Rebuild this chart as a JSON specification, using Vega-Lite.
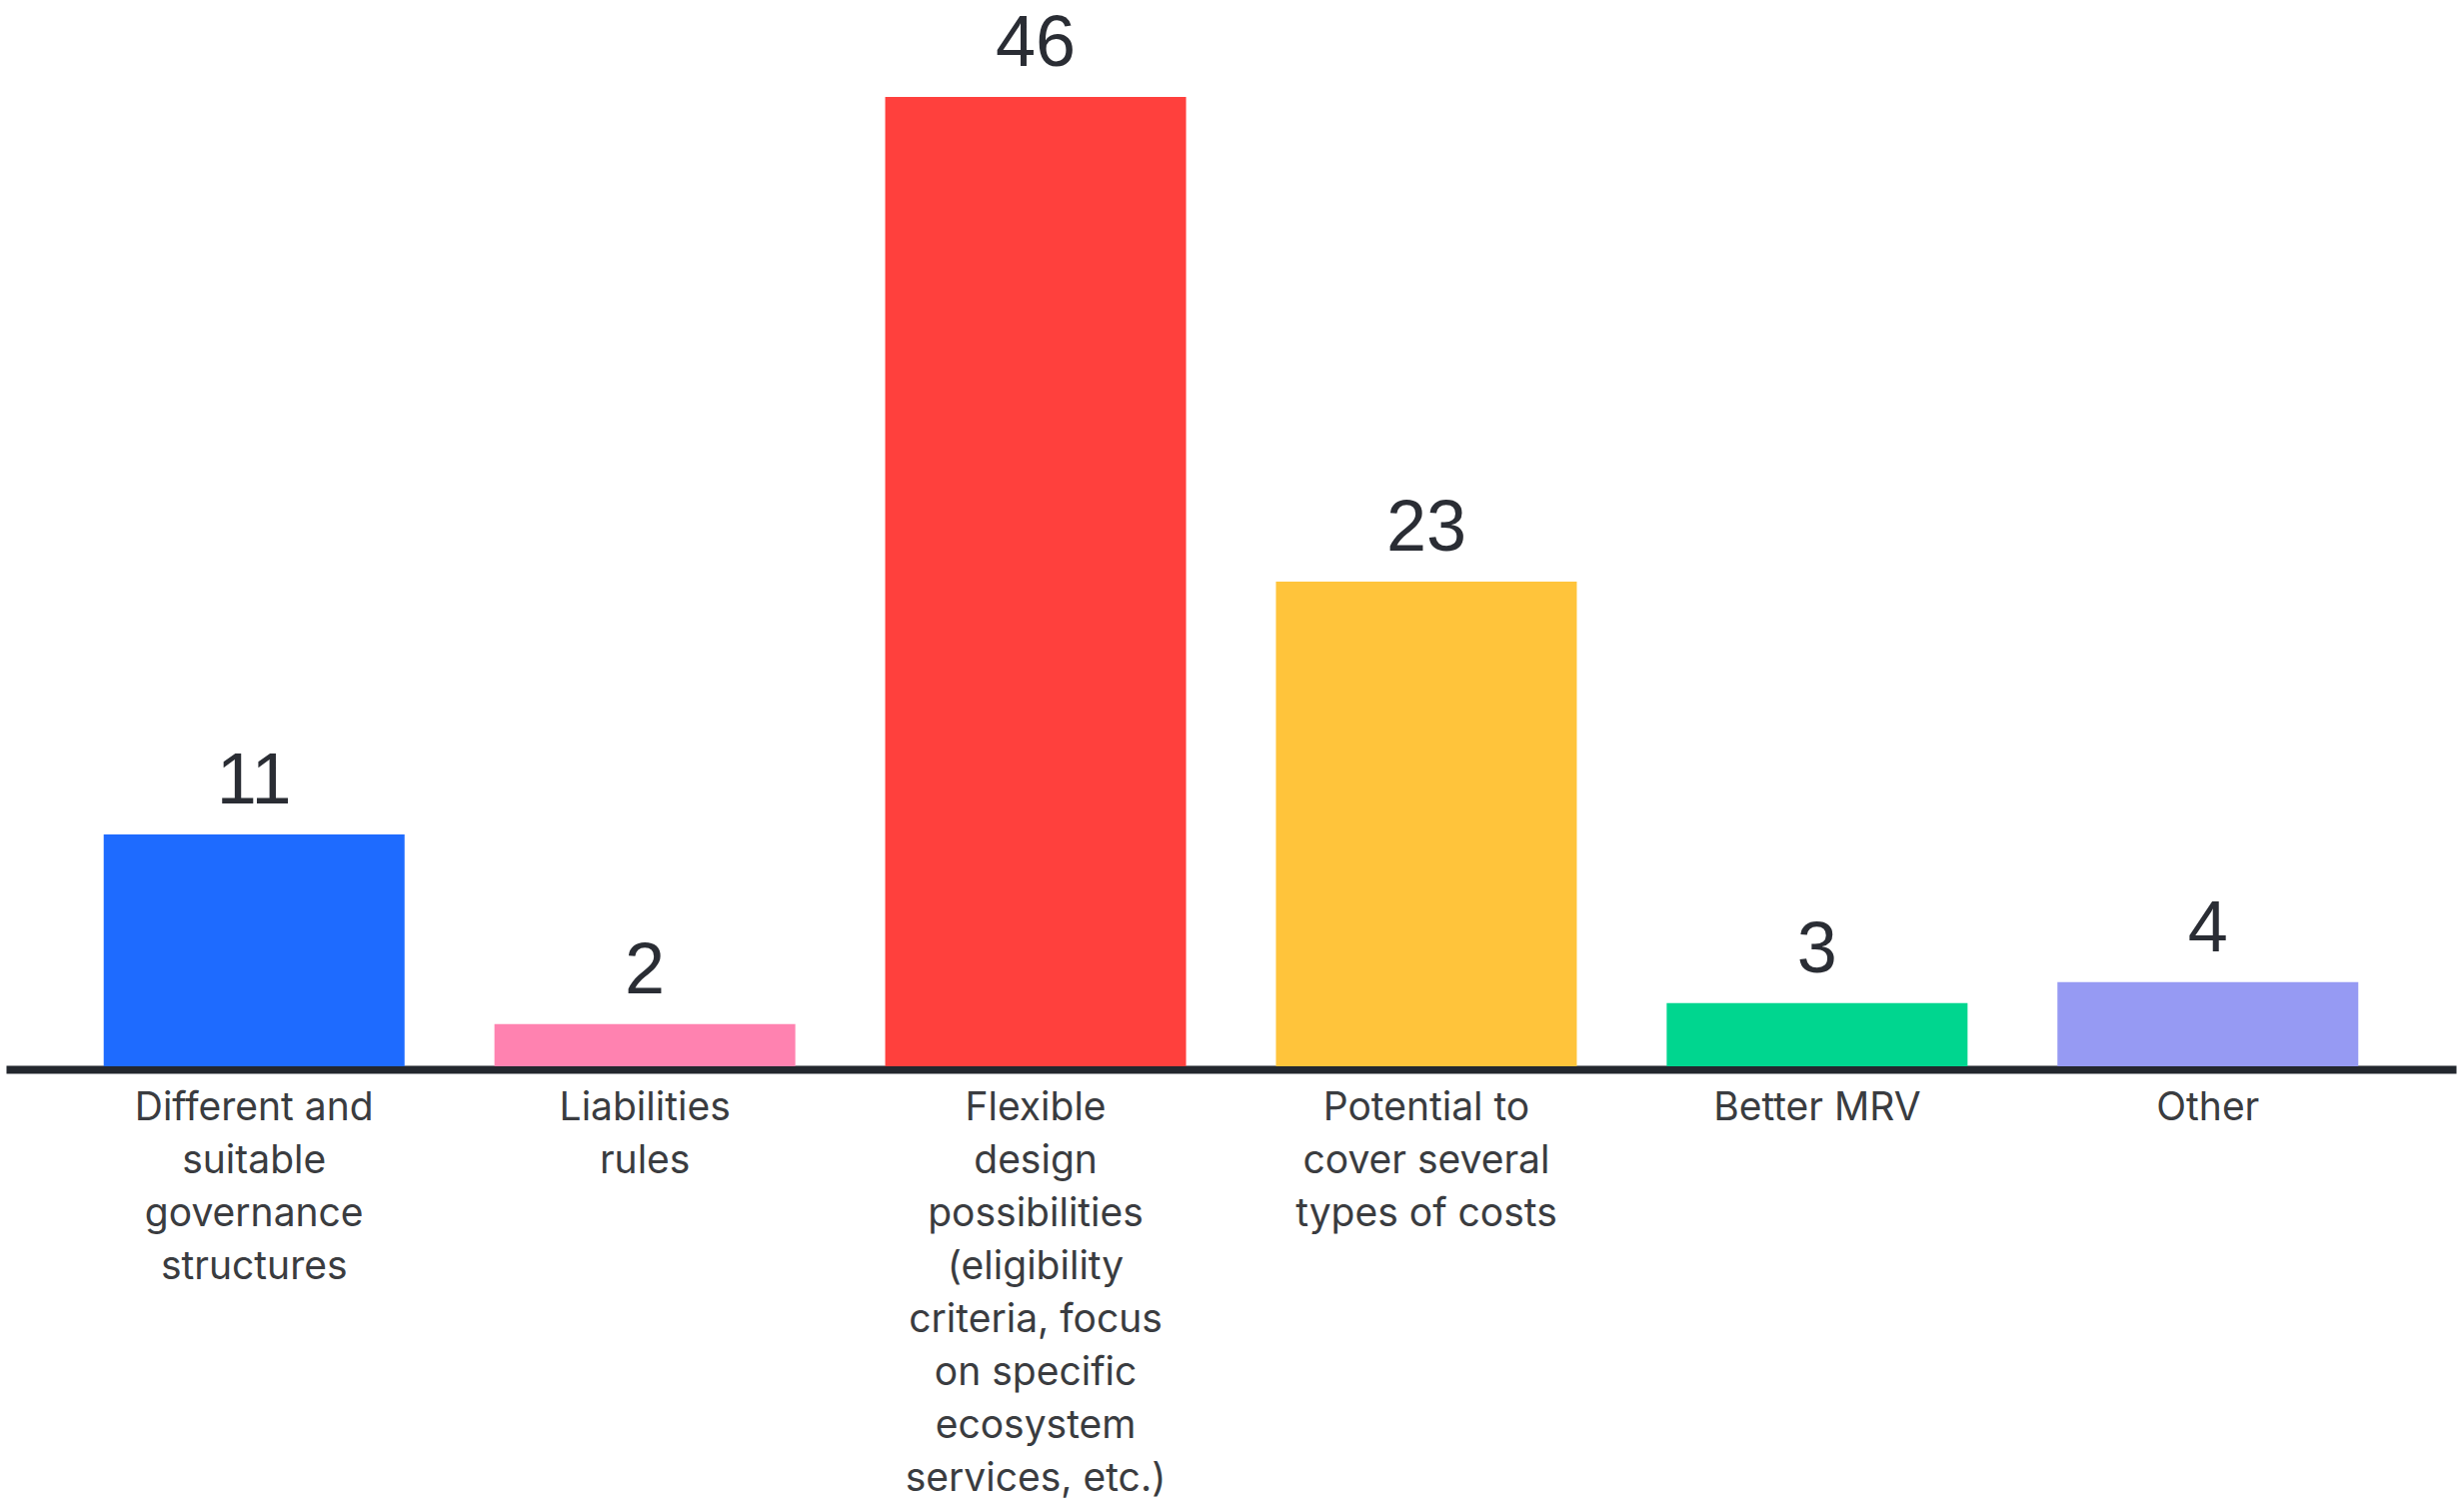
{
  "$schema": "https://vega.github.io/schema/vega-lite/v6.json",
  "width": 2451,
  "height": 970,
  "autosize": "none",
  "padding": {"left": 6, "top": 97, "right": 3, "bottom": 446},
  "background": "white",
  "config": {"view": {"stroke": null}},
  "data": {
    "values": [
      {"category": "Different and|suitable|governance|structures", "count": 11},
      {"category": "Liabilities|rules", "count": 2},
      {"category": "Flexible|design|possibilities|(eligibility|criteria, focus|on specific|ecosystem|services, etc.)", "count": 46},
      {"category": "Potential to|cover several|types of costs", "count": 23},
      {"category": "Better MRV", "count": 3},
      {"category": "Other", "count": 4}
    ]
  },
  "encoding": {
    "x": {
      "field": "category",
      "type": "nominal",
      "sort": null,
      "scale": {"paddingInner": 0.23, "paddingOuter": 0.25},
      "axis": {
        "title": null,
        "labelAngle": 0,
        "labelExpr": "split(datum.value, '|')",
        "labelFont": "Inter",
        "labelFontSize": 39,
        "labelLineHeight": 53,
        "labelColor": "#3a3c40",
        "labelPadding": 19,
        "labelBaseline": "top",
        "ticks": false,
        "tickSize": 0,
        "domainColor": "#23272e",
        "domainWidth": 8,
        "offset": 3,
        "labelLimit": 0
      }
    },
    "y": {
      "field": "count",
      "type": "quantitative",
      "scale": {"domain": [0, 46], "nice": false},
      "axis": null
    }
  },
  "layer": [
    {
      "mark": {"type": "bar"},
      "encoding": {
        "color": {
          "field": "category",
          "type": "nominal",
          "legend": null,
          "scale": {
            "domain": [
              "Different and|suitable|governance|structures",
              "Liabilities|rules",
              "Flexible|design|possibilities|(eligibility|criteria, focus|on specific|ecosystem|services, etc.)",
              "Potential to|cover several|types of costs",
              "Better MRV",
              "Other"
            ],
            "range": ["#1e6bff", "#ff82b0", "#ff403d", "#ffc43b", "#00d68f", "#969af3"]
          }
        }
      }
    },
    {
      "mark": {
        "type": "text",
        "font": "Liberation Sans",
        "fontSize": 72,
        "color": "#2a2d34",
        "baseline": "alphabetic",
        "dy": -31
      },
      "encoding": {"text": {"field": "count", "type": "quantitative"}}
    }
  ]
}
